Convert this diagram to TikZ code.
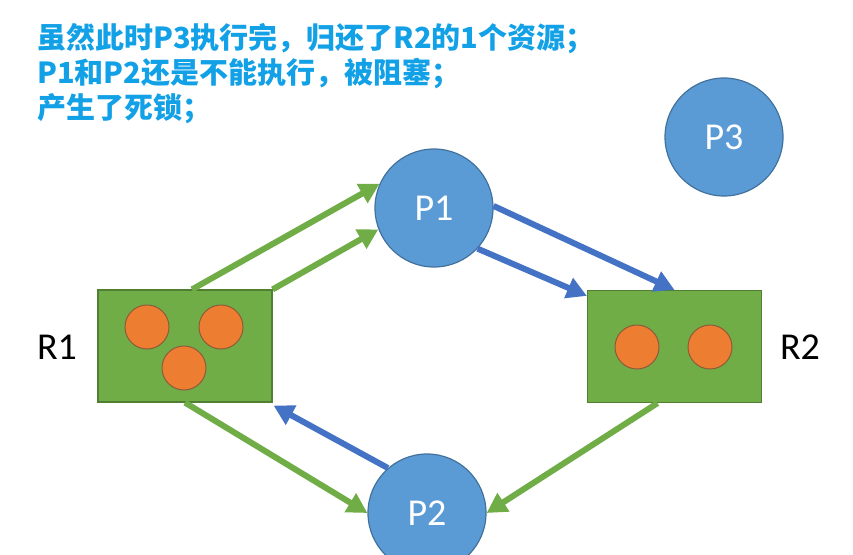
\documentclass[tikz,border=0pt]{standalone}
\usepackage{fontspec}
\setmainfont{Carlito}
\newfontfamily\cjk{Noto Sans CJK SC}
\usetikzlibrary{arrows.meta,calc}
\definecolor{pfill}{HTML}{5B9BD5}
\definecolor{pdraw}{HTML}{41719C}
\definecolor{rfill}{HTML}{70AD47}
\definecolor{rdraw}{HTML}{507E32}
\definecolor{ofill}{HTML}{ED7D31}
\definecolor{odraw}{HTML}{8E5B3A}
\definecolor{barrow}{HTML}{4472C4}
\definecolor{garrow}{HTML}{70AD47}
\definecolor{ttext}{HTML}{12A0E6}
\tikzset{
  proc/.style={circle,fill=pfill,draw=pdraw,line width=1.2pt,minimum size=118pt,inner sep=0pt,text=white,font=\fontsize{38}{40}\selectfont},
  res/.style={rectangle,fill=rfill,draw=rdraw,line width=1.2pt,minimum width=174pt,minimum height=112pt,inner sep=0pt},
  unit/.style={circle,fill=ofill,draw=odraw,line width=1pt,minimum size=44pt,inner sep=0pt},
  rlabel/.style={font=\fontsize{38}{40}\selectfont,text=black},
  captext/.style={anchor=base west,inner sep=0pt,text=ttext,font=\cjk\bfseries\fontsize{29}{31}\selectfont},
  garr/.style={draw=garrow,line width=6pt,-{Triangle[length=20pt,width=21pt]}},
  barr/.style={draw=barrow,line width=6pt,-{Triangle[length=20pt,width=21pt]}}
}
\begin{document}
\begin{tikzpicture}[x=1pt,y=-1pt]
\useasboundingbox (0,0) rectangle (853,554);
\node[captext] (t1) at (37,48) {虽然此时P3执行完，归还了R2的1个资源；};
\node[captext] (t2) at (37,83) {P1和P2还是不能执行，被阻塞；};
\node[captext] (t3) at (37,118) {产生了死锁；};

\node[res] (R1) at (185,346) {};
\node[res] (R2) at (674.5,346.5) {};
\node[unit] (u1) at (147,327) {};
\node[unit] (u2) at (221,327) {};
\node[unit] (u3) at (184,368) {};
\node[unit] (u4) at (637,347) {};
\node[unit] (u5) at (710,347) {};
\node[rlabel] (L1) at (57,347) {R1};
\node[rlabel] (L2) at (800,347) {R2};

\node[proc] (P1) at (434,208) {P1};
\node[proc] (P2) at (427,513) {P2};
\node[proc] (P3) at (724,137) {P3};

\draw[garr] ($(R1.north)+(7,0)$) -- (P1.156);
\draw[garr] (R1.north east) -- (P1.201);
\draw[barr] (P1.2) -- (R2.north);
\draw[barr] (P1.-43) -- ($(R2.north west)+(0,6)$);
\draw[garr] (R1.south) -- (P2.180);
\draw[garr] ($(R2.south)+(-17,0)$) -- (P2.0);
\draw[barr] (P2.131) -- ($(R1.south east)+(1,3)$);
\end{tikzpicture}
\end{document}
